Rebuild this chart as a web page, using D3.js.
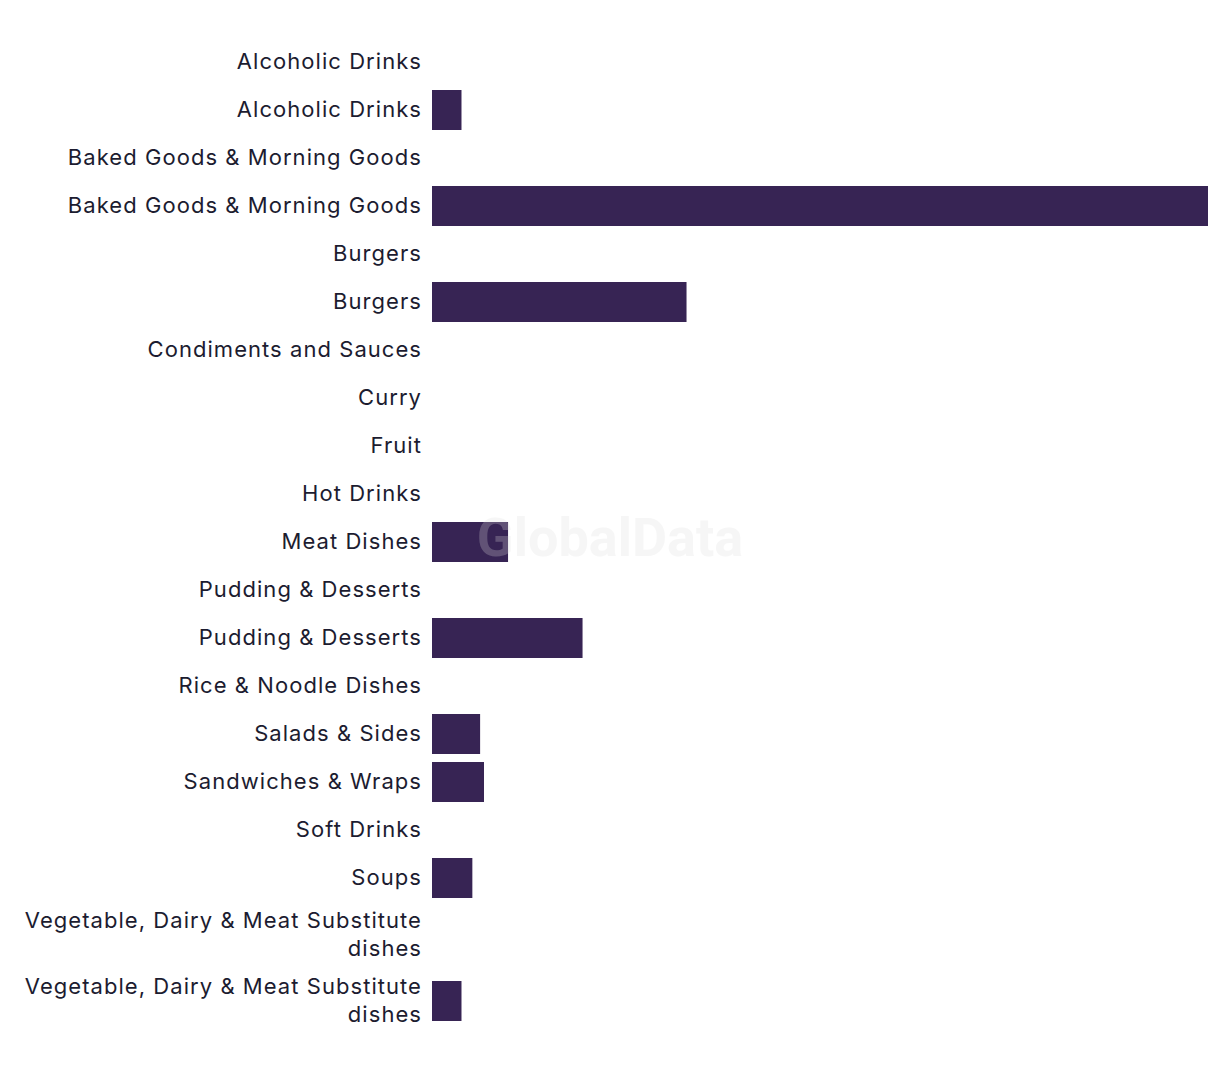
<!DOCTYPE html>
<html>
<head>
<meta charset="utf-8">
<script src="https://cdn.jsdelivr.net/npm/d3@7"></script>
<style>
  body { margin: 0; background: #fff; }
  svg { display: block; }
  .label { font-family: Inter, "Noto Sans", sans-serif; font-size: 22px; letter-spacing: 1.05px; fill: #1c1c30; }
</style>
</head>
<body>
<svg id="chart" width="1220" height="1072"></svg>
<script>
// categories, top to bottom (duplicates as in the source)
var categories = [
    "Alcoholic Drinks", "Alcoholic Drinks",
    "Baked Goods & Morning Goods", "Baked Goods & Morning Goods",
    "Burgers", "Burgers",
    "Condiments and Sauces", "Curry", "Fruit", "Hot Drinks",
    "Meat Dishes",
    "Pudding & Desserts", "Pudding & Desserts",
    "Rice & Noodle Dishes", "Salads & Sides", "Sandwiches & Wraps",
    "Soft Drinks", "Soups",
    "Vegetable, Dairy & Meat Substitute dishes",
    "Vegetable, Dairy & Meat Substitute dishes"
];
var values = [0, 1.9, 0, 50, 0, 16.4, 0, 0, 0, 0, 4.9, 0, 9.7, 0, 3.1, 3.35, 0, 2.6, 0, 1.9];
var xMax = 50;

var svg = d3.select("#chart");
var margin = { top: 38, left: 432, right: 12 };
var width = 1220;
var rowStep = 48, lineH = 28, barH = 40;

// wrap long labels onto two lines
function wrapLabel(s) {
    if (s.length <= 34) return [s];
    var cut = s.lastIndexOf(" ", 34);
    return [s.slice(0, cut), s.slice(cut + 1)];
}

var rows = categories.map(function(c, i) {
    var lines = wrapLabel(c);
    return { name: c, value: values[i], lines: lines, h: Math.max(rowStep, lines.length * lineH + 10) };
});
var acc = margin.top;
rows.forEach(function(r) { r.top = acc; acc += r.h; r.mid = r.top + r.h / 2; });

var xScale = d3.scaleLinear()
    .domain([0, xMax])
    .range([margin.left, width - margin.right]);

svg.append("g").selectAll("rect")
    .data(rows.filter(function(r) { return r.value > 0; }))
    .enter().append("rect")
    .attr("x", xScale(0))
    .attr("y", function(d) { return d.mid - barH / 2; })
    .attr("width", function(d) { return xScale(d.value) - xScale(0); })
    .attr("height", barH)
    .attr("fill", "#372454");

var labelX = margin.left - 10;
var labels = svg.append("g").selectAll("text")
    .data(rows)
    .enter().append("text")
    .attr("class", "label")
    .attr("text-anchor", "end")
    .attr("x", labelX);

labels.each(function(d) {
    var t = d3.select(this);
    var y0 = d.mid - (d.lines.length - 1) * lineH / 2;
    d.lines.forEach(function(l, k) {
        t.append("tspan")
            .attr("x", labelX)
            .attr("y", y0 + k * lineH)
            .attr("dy", "0.32em")
            .text(l);
    });
});

// watermark
svg.append("text")
    .attr("x", 610)
    .attr("y", 537)
    .attr("dy", "0.36em")
    .attr("text-anchor", "middle")
    .style("font-family", "Roboto, Inter, sans-serif")
    .style("font-weight", "bold")
    .style("font-size", "54px")
    .style("fill", "#dddddd")
    .style("opacity", 0.25)
    .text("GlobalData");
</script>
</body>
</html>
